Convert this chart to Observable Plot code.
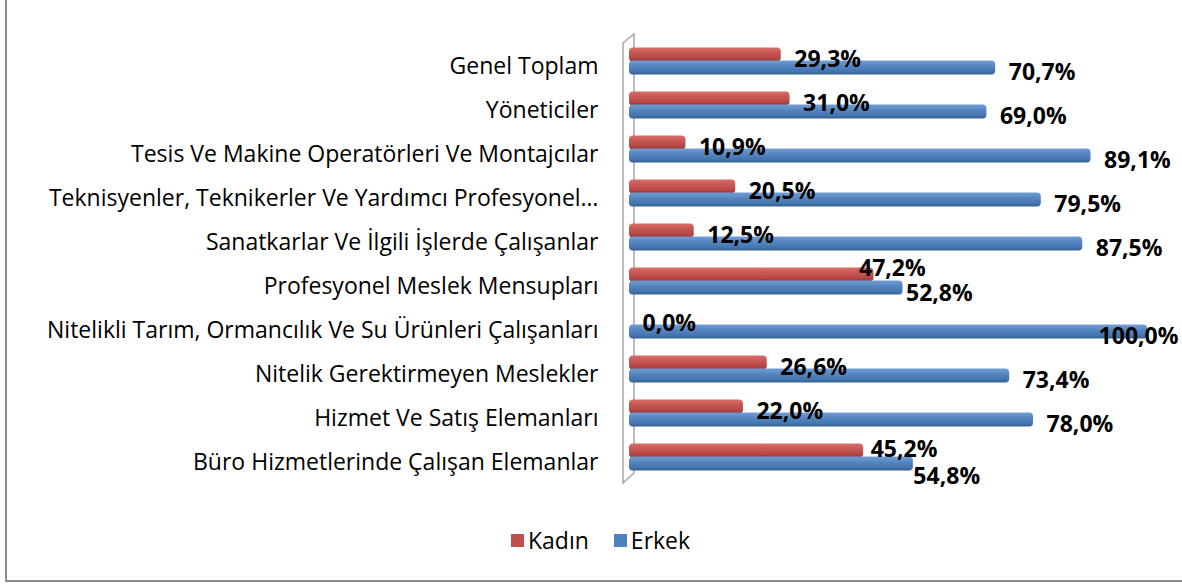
<!DOCTYPE html>
<html>
<head>
<meta charset="utf-8">
<script src="https://cdn.jsdelivr.net/npm/d3@7"></script>
<script src="https://cdn.jsdelivr.net/npm/@observablehq/plot@0.6"></script>
<style>
  html, body { margin: 0; padding: 0; background: #fff; overflow: hidden; width: 1182px; height: 584px; }
  #frame { position: absolute; left: 5px; top: 0; width: 1177px; height: 582px; border-left: 2px solid #8c8c8c; border-bottom: 2px solid #8c8c8c; box-sizing: border-box; }
  #chart { position: absolute; left: 0; top: 0; }
  #legend { position: absolute; left: 511px; top: 524px; display: flex; align-items: center; font-family: "Open Sans", sans-serif; font-size: 23px; color: #000; }
  #legend .item { display: flex; align-items: center; margin-right: 25px; }
  #legend .sw { width: 13px; height: 13px; margin-right: 4px; }
</style>
</head>
<body>
<div id="frame"></div>
<div id="chart"></div>
<div id="legend"></div>
<script>
const categories = [
  "Genel Toplam",
  "Yöneticiler",
  "Tesis Ve Makine Operatörleri Ve Montajcılar",
  "Teknisyenler, Teknikerler Ve Yardımcı Profesyonel…",
  "Sanatkarlar Ve İlgili İşlerde Çalışanlar",
  "Profesyonel Meslek Mensupları",
  "Nitelikli Tarım, Ormancılık Ve Su Ürünleri Çalışanları",
  "Nitelik Gerektirmeyen Meslekler",
  "Hizmet Ve Satış Elemanları",
  "Büro Hizmetlerinde Çalışan Elemanlar"
];
const series = ["Kadın", "Erkek"];
const kadin = [29.3, 31.0, 10.9, 20.5, 12.5, 47.2, 0.0, 26.6, 22.0, 45.2];
const erkek = [70.7, 69.0, 89.1, 79.5, 87.5, 52.8, 100.0, 73.4, 78.0, 54.8];
const colors = ["#c0504d", "#4f81bd"];

const rows = categories.flatMap((c, i) => [
  {cat: c, series: series[0], value: kadin[i]},
  {cat: c, series: series[1], value: erkek[i]}
]);

const fmt = v => v.toFixed(1).replace(".", ",") + "%";

// label placement tweaks (style only)
const defaultPos = {dx: 13, dy: 5, anchor: "start"};
const overrides = {
  [categories[5] + "|Kadın"]: {dx: -15, dy: -6, anchor: "start"},
  [categories[5] + "|Erkek"]: {dx: 3, dy: 6, anchor: "start"},
  [categories[6] + "|Erkek"]: {dx: 31, dy: 5, anchor: "end"},
  [categories[9] + "|Kadın"]: {dx: 7, dy: -1, anchor: "start"},
  [categories[9] + "|Erkek"]: {dx: 0, dy: 13, anchor: "start"}
};
const posKey = d => JSON.stringify(overrides[d.cat + "|" + d.series] || defaultPos);
const groups = d3.groups(rows, posKey);

const textMarks = groups.map(([k, data]) => {
  const p = JSON.parse(k);
  return Plot.text(data, {
    x: "value", y: "series", fy: "cat",
    text: d => fmt(d.value),
    textAnchor: p.anchor, dx: p.dx, dy: p.dy,
    fontSize: 23, fontWeight: "bold", fill: "#000"
  });
});

const plot = Plot.plot({
  width: 1182,
  height: 500,
  marginLeft: 629,
  marginRight: 35,
  marginTop: 38,
  marginBottom: 21,
  style: {fontFamily: "Open Sans, sans-serif", fontSize: "23px", color: "#000", background: "transparent", overflow: "visible"},
  x: {domain: [0, 100], axis: null},
  y: {domain: series, axis: null, paddingInner: 0, paddingOuter: 0.7, round: false},
  fy: {domain: categories, padding: 0, label: null},
  color: {domain: series, range: colors},
  marks: [
    Plot.barX(rows, {
      x: "value", y: "series", fy: "cat",
      fill: d => d.series === series[0] ? "url(#gradK)" : "url(#gradE)",
      insetTop: -0.5, insetBottom: -0.5,
      rx: 4
    }),
    ...textMarks,
    Plot.axisFy({anchor: "left", tickSize: 0, tickPadding: 31, dy: 5, label: null, fontSize: 23})
  ]
});

document.getElementById("chart").appendChild(plot);

// gradients for cylinder look
const svg = d3.select(plot);
const defs = svg.insert("defs", ":first-child");
function grad(id, stops) {
  const g = defs.append("linearGradient").attr("id", id).attr("x1", 0).attr("y1", 0).attr("x2", 0).attr("y2", 1);
  stops.forEach(([o, c]) => g.append("stop").attr("offset", o).attr("stop-color", c));
}
grad("gradK", [["0%", "#d66d6a"], ["40%", "#c65752"], ["80%", "#b3443f"], ["100%", "#8c3330"]]);
grad("gradE", [["0%", "#739dd4"], ["40%", "#5586c2"], ["80%", "#4474ad"], ["100%", "#345d8f"]]);

// 3D "wall" at x = 0, placed via the plot's scales
const xScale = plot.scale("x");
const fyScale = plot.scale("fy");
const wallX = xScale.apply(0);
const [wallTop, wallBottom] = fyScale.range;
svg.insert("path", "defs + *")
  .attr("d", `M${wallX - 6},${wallBottom + 4} L${wallX - 6},${wallTop + 5} L${wallX + 5},${wallTop - 4} L${wallX + 5},${wallBottom - 6} Z`)
  .attr("fill", "#fff")
  .attr("stroke", "#a6a6a6")
  .attr("stroke-width", 1.5);

// legend
const legend = document.getElementById("legend");
series.forEach((s, i) => {
  const item = document.createElement("div");
  item.className = "item";
  const sw = document.createElement("div");
  sw.className = "sw";
  sw.style.background = colors[i];
  const lab = document.createElement("span");
  lab.textContent = s;
  item.appendChild(sw);
  item.appendChild(lab);
  legend.appendChild(item);
});
</script>
</body>
</html>
